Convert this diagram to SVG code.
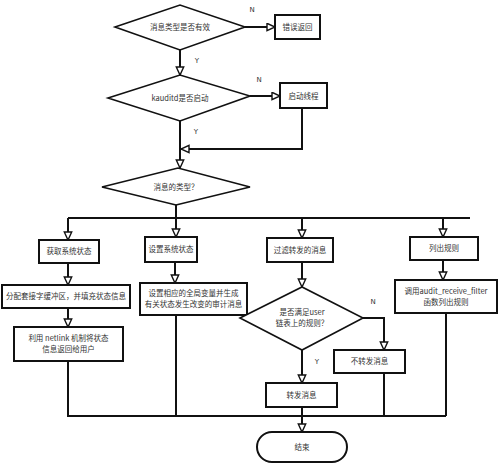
<svg xmlns="http://www.w3.org/2000/svg" width="500" height="463" viewBox="0 0 500 463">
<style>
.box{fill:#fff;stroke:#111;stroke-width:2}
.dia{fill:#fff;stroke:#111;stroke-width:1.6}
.ln{fill:none;stroke:#111;stroke-width:2}
.t{font-family:"Noto Sans CJK SC","DejaVu Sans",sans-serif;font-size:7.5px;fill:#333;text-anchor:middle}
.yn{font-family:"DejaVu Sans",sans-serif;font-size:7px;fill:#333;text-anchor:middle}
</style>
<defs>
<marker id="arr" markerWidth="12" markerHeight="12" refX="9" refY="4.5" orient="auto" markerUnits="userSpaceOnUse">
<path d="M1,0.8 L9,4.5 L1,8.2 Z" fill="#fff" stroke="#111" stroke-width="1.4"/>
</marker>
</defs>
<rect width="500" height="463" fill="#fff"/>
<g id="connectors">
<path class="ln" d="M180,50 V75" marker-end="url(#arr)"/>
<path class="ln" d="M245,27 H275" marker-end="url(#arr)"/>
<path class="ln" d="M250,96 H280" marker-end="url(#arr)"/>
<path class="ln" d="M302,108 V149 H181" marker-end="url(#arr)"/>
<path class="ln" d="M180,121 V168" marker-end="url(#arr)"/>
<path class="ln" d="M176,205 V237" marker-end="url(#arr)"/>
<path class="ln" d="M68,218 H470"/>
<path class="ln" d="M68,218 V240" marker-end="url(#arr)"/>
<path class="ln" d="M302,218 V238" marker-end="url(#arr)"/>
<path class="ln" d="M443,218 V237" marker-end="url(#arr)"/>
<path class="ln" d="M68,263 V285" marker-end="url(#arr)"/>
<path class="ln" d="M175,262 V283" marker-end="url(#arr)"/>
<path class="ln" d="M302,262 V287" marker-end="url(#arr)"/>
<path class="ln" d="M443,260 V280" marker-end="url(#arr)"/>
<path class="ln" d="M68,308 V327" marker-end="url(#arr)"/>
<path class="ln" d="M363,318 H384 V350" marker-end="url(#arr)"/>
<path class="ln" d="M302,350 V383" marker-end="url(#arr)"/>
<path class="ln" d="M68,361 V416 H446"/>
<path class="ln" d="M176,315 V416"/>
<path class="ln" d="M384,373 V416"/>
<path class="ln" d="M446,313 V416"/>
<path class="ln" d="M302,407 V432" marker-end="url(#arr)"/>
<text class="yn" x="252" y="12">N</text>
<text class="yn" x="197" y="63">Y</text>
<text class="yn" x="259" y="82">N</text>
<text class="yn" x="196" y="134">Y</text>
<text class="yn" x="373" y="304">N</text>
<text class="yn" x="317" y="364">Y</text>
</g>
<g id="d1"><polygon class="dia" points="115,27 180,5 245,27 180,50"/><text class="t" x="180" y="30">消息类型是否有效</text></g>
<g id="err"><rect class="box" x="275" y="15" width="45" height="24"/><text class="t" x="297.5" y="30">错误返回</text></g>
<g id="d2"><polygon class="dia" points="108,98 180,75 250,96 180,121"/><text class="t" x="180" y="101">kauditd是否启动</text></g>
<g id="start"><rect class="box" x="280" y="83" width="47" height="25"/><text class="t" x="303.5" y="98.5">启动线程</text></g>
<g id="d3"><polygon class="dia" points="102,187 178,168 250,187 176,205"/><text class="t" x="176" y="190">消息的类型？</text></g>
<g id="get"><rect class="box" x="39" y="240" width="60" height="23"/><text class="t" x="69" y="254">获取系统状态</text></g>
<g id="set"><rect class="box" x="145" y="237" width="52" height="25"/><text class="t" x="171" y="252">设置系统状态</text></g>
<g id="filter"><rect class="box" x="267" y="238" width="66" height="24"/><text class="t" x="300" y="253">过滤转发的消息</text></g>
<g id="list"><rect class="box" x="410" y="237" width="68" height="23"/><text class="t" x="444" y="251">列出规则</text></g>
<g id="alloc"><rect class="box" x="2" y="285" width="128" height="23"/><text class="t" x="66" y="299">分配套接字缓冲区，并填充状态信息</text></g>
<g id="setvar"><rect class="box" x="140" y="283" width="107" height="32"/><text class="t" x="193.5" y="296">设置相应的全局变量并生成</text><text class="t" x="193.5" y="307">有关状态发生改变的审计消息</text></g>
<g id="d4"><polygon class="dia" points="240,318 302,287 363,318 302,350"/><text class="t" x="302" y="315">是否满足user</text><text class="t" x="302" y="326">链表上的规则？</text></g>
<g id="audit"><rect class="box" x="395" y="280" width="102" height="33"/><text class="t" x="446" y="294">调用audit_receive_filter</text><text class="t" x="446" y="305">函数列出规则</text></g>
<g id="netlink"><rect class="box" x="14" y="327" width="109" height="34"/><text class="t" x="68.5" y="341">利用 netlink 机制将状态</text><text class="t" x="68.5" y="352">信息返回给用户</text></g>
<g id="noforward"><rect class="box" x="334" y="350" width="71" height="23"/><text class="t" x="369.5" y="364">不转发消息</text></g>
<g id="forward"><rect class="box" x="266" y="383" width="71" height="24"/><text class="t" x="301.5" y="398">转发消息</text></g>
<g id="end"><rect class="box" x="257" y="432" width="90" height="30" rx="15" ry="15"/><text class="t" x="302" y="450">结束</text></g>
</svg>
